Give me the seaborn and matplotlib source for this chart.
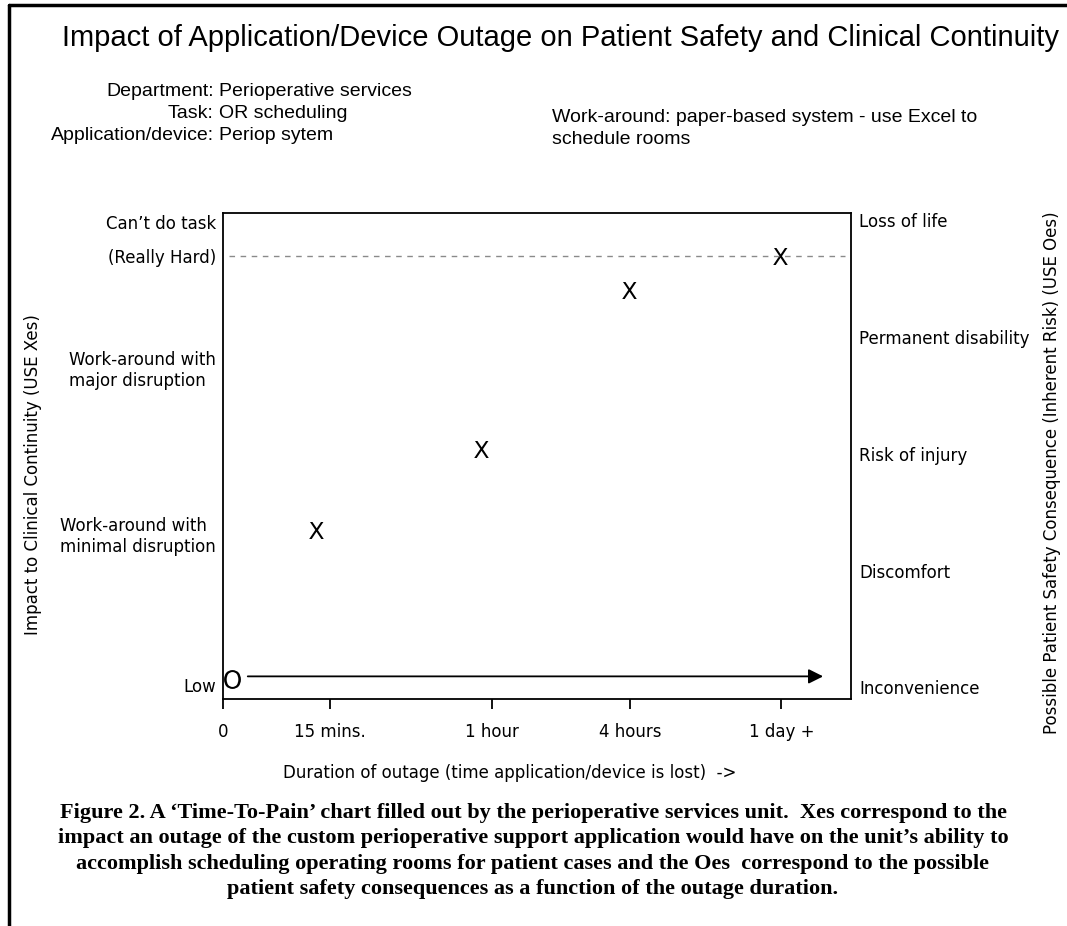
import numpy as np
import pandas as pd
import seaborn as sns
import matplotlib.pyplot as plt
from matplotlib.lines import Line2D

sns.set_style('white')
plt.rcParams['font.family'] = ['DejaVu Sans']
plt.rcParams['text.color'] = 'black'
plt.rcParams['axes.labelcolor'] = 'black'
plt.rcParams['xtick.color'] = 'black'
plt.rcParams['ytick.color'] = 'black'

# ---- data ---------------------------------------------------------------
duration_ticks = [0, 1.70, 4.28, 6.48, 8.89]
duration_labels = ['0', '15 mins.', '1 hour', '4 hours', '1 day +']

# clinical continuity impact (Xes)
x_duration = [1.48, 4.11, 6.46, 8.87]
x_impact = [1.345, 2.04, 3.40, 3.69]

# patient safety consequence (Oes)
o_duration = [0.14]
o_risk = [0.07]

left_pos = [3.98, 3.69, 2.74, 1.32, 0.02]
left_labels = ['Can\u2019t do task', '(Really Hard)',
               'Work-around with\nmajor disruption',
               'Work-around with\nminimal disruption', 'Low']
right_pos = [0, 1, 2, 3, 4]
right_labels = ['Inconvenience', 'Discomfort', 'Risk of injury',
                'Permanent disability', 'Loss of life']
really_hard = 3.69

narrow = ['Liberation Sans', 'DejaVu Sans']

fig = plt.figure(figsize=(10.67, 9.26), dpi=100)
ax = fig.add_axes([0.209, 0.2451, 0.5886, 0.5249])

# dashed "really hard" guide and arrow
ax.hlines(really_hard, 0.1, 9.9, colors='#8a8a8a', linewidth=1,
          linestyles=(0, (4, 4)))
ax.annotate('', xy=(9.6, 0.094), xytext=(0.35, 0.094),
            arrowprops=dict(arrowstyle='-|>', color='black', lw=1.3,
                            mutation_scale=22))

xes = pd.DataFrame({'duration': x_duration, 'impact': x_impact})
oes = pd.DataFrame({'duration': o_duration, 'risk': o_risk})
sns.scatterplot(data=xes, x='duration', y='impact', marker=r'$\mathregular{X}$',
                s=150, color='black', linewidth=0, ax=ax)
sns.scatterplot(data=oes, x='duration', y='risk', marker=r'$\mathregular{O}$',
                s=185, color='black', linewidth=0, ax=ax)

ax.set_xlim(0, 10)
ax.set_ylim(-0.1, 4.06)
ax.set_xlabel('')
ax.set_ylabel('')

for sp in ax.spines.values():
    sp.set_color('black')
    sp.set_linewidth(1.3)

ax.set_xticks(duration_ticks)
ax.set_xticklabels(duration_labels, fontsize=12)
ax.tick_params(axis='x', direction='out', length=7, width=1.3,
               color='black', pad=10, bottom=True)

ax.set_yticks(left_pos)
ax.set_yticklabels(left_labels, fontsize=12)
ax.tick_params(axis='y', length=0, pad=5)
for lab in ax.get_yticklabels():
    lab.set_multialignment('left')

ax2 = ax.twinx()
ax2.set_ylim(ax.get_ylim())
ax2.set_yticks(right_pos)
ax2.set_yticklabels(right_labels, fontsize=12)
ax2.tick_params(axis='y', length=0, pad=6)
for sp in ax2.spines.values():
    sp.set_visible(False)

# axis titles
fig.text(0.031, 0.487, 'Impact to Clinical Continuity (USE Xes)',
         rotation=90, ha='center', va='center', fontsize=12)
fig.text(0.986, 0.490,
         'Possible Patient Safety Consequence (Inherent Risk) (USE Oes)',
         rotation=90, ha='center', va='center', fontsize=12)
fig.text(0.478, 1 - 773 / 926,
         'Duration of outage (time application/device is lost)  ->',
         ha='center', va='center', fontsize=12)

# header
fig.text(0.525, 1 - 38 / 926,
         'Impact of Application/Device Outage on Patient Safety and Clinical Continuity',
         ha='center', va='center', fontsize=21, family=narrow)
info_keys = ['Department:', 'Task:', 'Application/device:']
info_vals = ['Perioperative services', 'OR scheduling', 'Periop sytem']
for i, (k, v) in enumerate(zip(info_keys, info_vals)):
    y = 1 - (91 + i * 22.5) / 926
    fig.text(214 / 1067, y, k, ha='right', va='center', fontsize=14, family=narrow)
    fig.text(219 / 1067, y, v, ha='left', va='center', fontsize=14, family=narrow)
fig.text(552 / 1067, 1 - 117 / 926, 'Work-around: paper-based system - use Excel to',
         ha='left', va='center', fontsize=14, family=narrow)
fig.text(552 / 1067, 1 - 140 / 926, 'schedule rooms',
         ha='left', va='center', fontsize=14, family=narrow)

# caption
caption = [
    'Figure 2. A \u2018Time-To-Pain\u2019 chart filled out by the perioperative services unit.  Xes correspond to the',
    'impact an outage of the custom perioperative support application would have on the unit\u2019s ability to',
    'accomplish scheduling operating rooms for patient cases and the Oes  correspond to the possible',
    'patient safety consequences as a function of the outage duration.',
]
for i, line in enumerate(caption):
    fig.text(533 / 1067, 1 - (813 + i * 25.3) / 926, line, ha='center', va='center',
             fontsize=16, fontweight='bold', family=['Liberation Serif', 'DejaVu Serif'])

# page border (top and left)
fig.add_artist(Line2D([9 / 1067, 1], [1 - 5 / 926, 1 - 5 / 926],
                      transform=fig.transFigure, color='black', lw=2.5))
fig.add_artist(Line2D([9 / 1067, 9 / 1067], [0, 1 - 5 / 926],
                      transform=fig.transFigure, color='black', lw=2.5))

fig.savefig('out.png', dpi=100)
